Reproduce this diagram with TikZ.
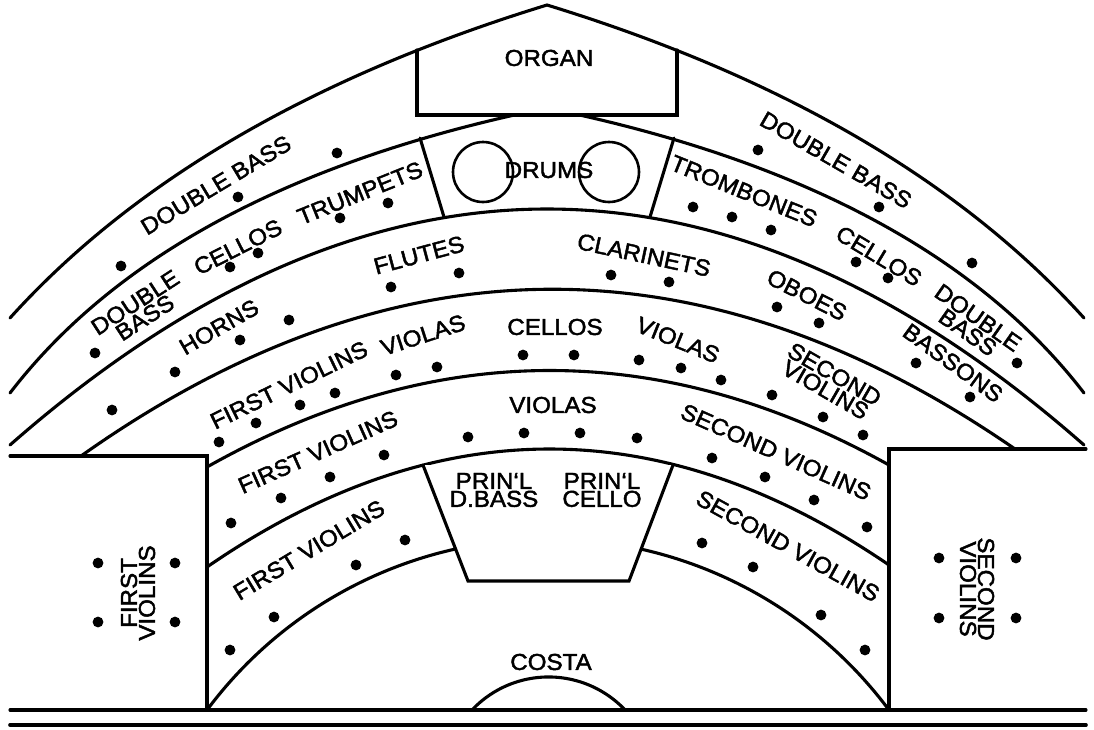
\documentclass[tikz,border=0pt]{standalone}
\usepackage{fontspec}
\setmainfont{Liberation Sans}[FakeStretch=1.05, FakeBold=2]
\usetikzlibrary{calc}

\tikzset{
  wall/.style={line width=3.1pt, line cap=round},
  lbl/.style={font=\fontsize{23}{18}\selectfont, inner sep=0pt, align=center},
}

\begin{document}
\begin{tikzpicture}[x=1pt, y=1pt, yscale=-1]
  \useasboundingbox (0,0) rectangle (1094,729);

  % row ends and pull points (halves mirror at x=547)
  \coordinate (a1l) at (10,318);   \coordinate (a1lc) at (195,113);
  \coordinate (a1t) at (547,5);
  \coordinate (a1rc) at (899,113); \coordinate (a1r) at (1084,318);
  \coordinate (a2l) at (10,393);   \coordinate (a2lc) at (170,185);
  \coordinate (a2t) at (547,108);
  \coordinate (a2rc) at (924,185); \coordinate (a2r) at (1084,393);
  \coordinate (a3l) at (10,445);   \coordinate (a3c) at (547,-27);   \coordinate (a3r) at (1084,445);
  \coordinate (a4l) at (81,456);   \coordinate (a4c) at (547,126);   \coordinate (a4r) at (1015,449);
  \coordinate (a5l) at (207,467);  \coordinate (a5c) at (548,275);   \coordinate (a5r) at (889,465);
  \coordinate (a6l) at (207,567);  \coordinate (a6c) at (548,332);   \coordinate (a6r) at (889,565);

  % rows
  \draw[wall] (a1l) .. controls ($(a1l)!2/3!(a1lc)$) and ($(a1t)!2/3!(a1lc)$) .. (a1t)
                    .. controls ($(a1t)!2/3!(a1rc)$) and ($(a1r)!2/3!(a1rc)$) .. (a1r);
  \draw[wall] (a2l) .. controls ($(a2l)!2/3!(a2lc)$) and ($(a2t)!2/3!(a2lc)$) .. (a2t)
                    .. controls ($(a2t)!2/3!(a2rc)$) and ($(a2r)!2/3!(a2rc)$) .. (a2r);
  \draw[wall] (a3l) .. controls ($(a3l)!2/3!(a3c)$) and ($(a3r)!2/3!(a3c)$) .. (a3r);
  \draw[wall] (a4l) .. controls ($(a4l)!2/3!(a4c)$) and ($(a4r)!2/3!(a4c)$) .. (a4r);
  \draw[wall] (a5l) .. controls ($(a5l)!2/3!(a5c)$) and ($(a5r)!2/3!(a5c)$) .. (a5r);
  \draw[wall] (a6l) .. controls ($(a6l)!2/3!(a6c)$) and ($(a6r)!2/3!(a6c)$) .. (a6r);
  \draw[wall] (207,710) arc[start angle=-143.32, end angle=-36.68, radius=425.2];

  % organ
  \fill[white] (417,52) rectangle (677,115);
  \draw[wall] (417,50) -- (417,115) -- (677,115) -- (677,50);

  % drums
  \draw[wall] (420,138) -- (444,217);
  \draw[wall] (674,138) -- (650,217);
  \draw[line width=2.6pt] (483,172) circle[radius=30];
  \draw[line width=2.6pt] (609,172) circle[radius=30];

  % principals
  \fill[white] (423,465) -- (468,581) -- (629,581) -- (673,465) -- cycle;
  \draw[wall] (423,465) -- (468,581) -- (629,581) -- (673,465);

  % side boxes and stage front
  \draw[wall] (10,456) -- (207,456) -- (207,710);
  \draw[wall] (1086,449) -- (889,449) -- (889,710);
  \draw[wall] (10,710) -- (1086,710);
  \draw[wall, line width=3.6pt] (10,725) -- (1086,725);
  \draw[wall] (472,710) arc[start angle=-136.7, end angle=-43.3, radius=105.2];

  % players
  \foreach \x/\y in {
    121/266, 238/197, 337/153, 758/150, 879/207, 972/263,
    95/353, 230/267, 258/253, 340/218, 388/203, 693/207, 732/217, 771/230, 856/262, 888/278, 1017/363,
    175/372, 240/340, 289/320, 391/287, 459/273, 611/275, 669/282, 777/307, 819/323, 916/363, 970/397,
    112/410, 219/442, 256/423, 300/405, 335/393, 396/375, 437/367, 523/355, 574/355,
    639/360, 681/368, 721/380, 772/395, 823/417, 863/435,
    231/523, 281/498, 330/477, 384/455, 468/437, 524/433, 580/433, 637/438, 712/458, 765/477, 814/500, 867/527,
    230/650, 274/617, 356/565, 405/540, 702/543, 753/567, 821/615, 865/650,
    98/563, 175/563, 98/622, 175/622, 939/558, 1016/558, 939/618, 1016/618}
    \fill (\x,\y) circle[radius=5.4];

  % labels
  \node[lbl] (organ) at (549,58) {ORGAN};
  \node[lbl] (drums) at (549,170) {DRUMS};
  \node[lbl, rotate=31] (dbl1) at (216,185) {DOUBLE BASS};
  \node[lbl, rotate=-30] (dbr1) at (836,160) {DOUBLE BASS};
  \node[lbl, rotate=33] (dbl2) at (140,310) {DOUBLE\\BASS};
  \node[lbl, rotate=27] (cel2) at (238,247) {CELLOS};
  \node[lbl, rotate=22] (trp) at (360,193) {TRUMPETS};
  \node[lbl, rotate=-22] (trb) at (744,191) {TROMBONES};
  \node[lbl, rotate=-31] (cer2) at (879,256) {CELLOS};
  \node[lbl, rotate=-35] (dbr2) at (973,325) {DOUBLE\\BASS};
  \node[lbl, rotate=30] (hrn) at (219,327) {HORNS};
  \node[lbl, rotate=15] (flt) at (419,255) {FLUTES};
  \node[lbl, rotate=-12] (clr) at (644,255) {CLARINETS};
  \node[lbl, rotate=-27] (obo) at (807,295) {OBOES};
  \node[lbl, rotate=-36] (bsn) at (953,363) {BASSONS};
  \node[lbl, rotate=26] (vn1a) at (289,385) {FIRST VIOLINS};
  \node[lbl, rotate=18] (vlal) at (423,335) {VIOLAS};
  \node[lbl] (celm) at (555,327) {CELLOS};
  \node[lbl, rotate=-22] (vlar) at (678,340) {VIOLAS};
  \node[lbl, rotate=-30] (vn2a) at (830,382) {SECOND\\VIOLINS};
  \node[lbl] (vlam) at (553,405) {VIOLAS};
  \node[lbl, rotate=24] (vn1b) at (318,452) {FIRST VIOLINS};
  \node[lbl, rotate=-24] (vn2b) at (776,452) {SECOND VIOLINS};
  \node[lbl, rotate=31] (vn1c) at (309,550) {FIRST VIOLINS};
  \node[lbl, rotate=-29] (vn2c) at (788,546) {SECOND VIOLINS};
  \node[lbl] (pdb) at (494,490) {PRIN`L\\D.BASS};
  \node[lbl] (pvc) at (602,490) {PRIN`L\\CELLO};
  \node[lbl] (costa) at (551,662) {COSTA};
  \node[lbl, rotate=90] (vn1d) at (138,593) {FIRST\\VIOLINS};
  \node[lbl, rotate=-90] (vn2d) at (977,589) {SECOND\\VIOLINS};
\end{tikzpicture}
\end{document}
